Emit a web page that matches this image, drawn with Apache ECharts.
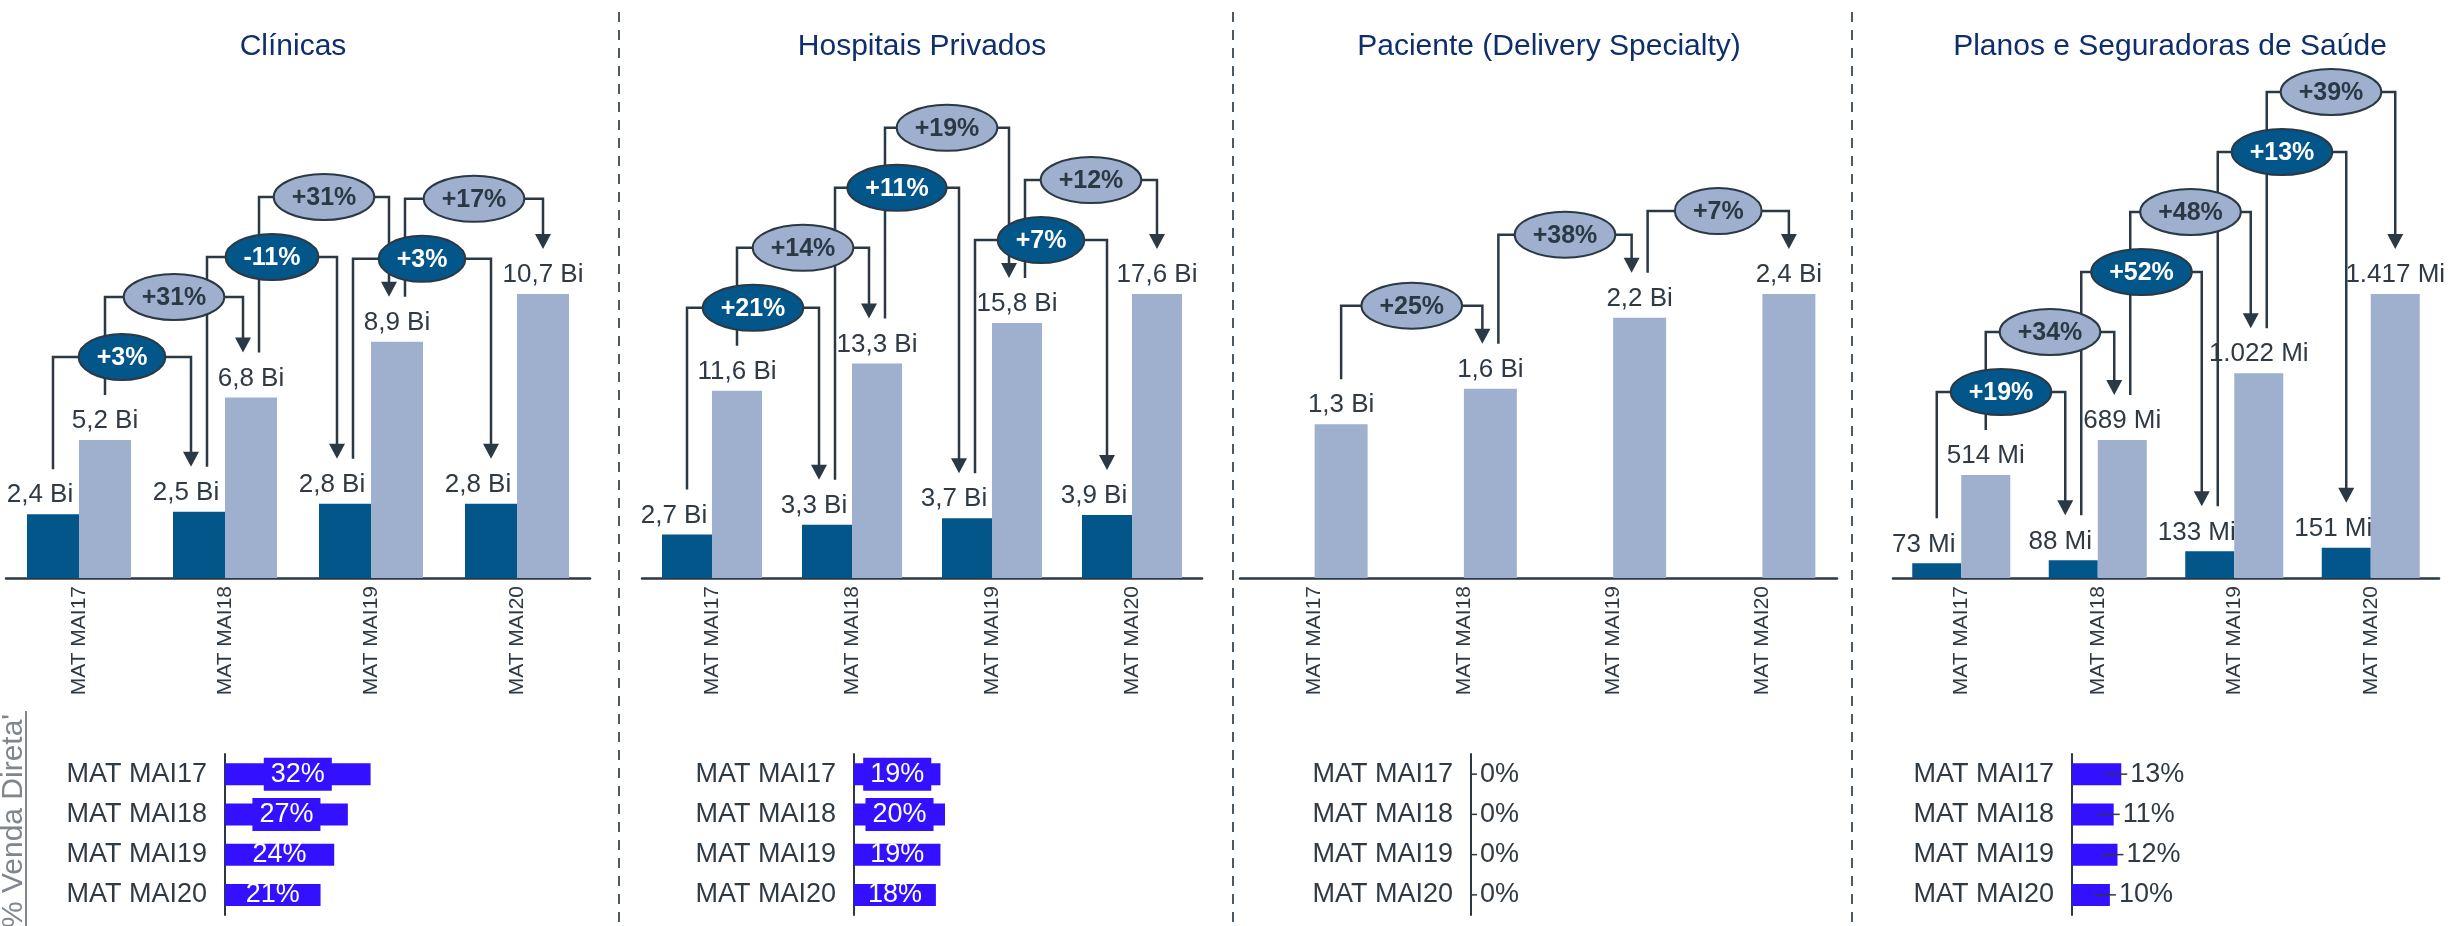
<!DOCTYPE html>
<html><head><meta charset="utf-8">
<script src="https://cdn.jsdelivr.net/npm/echarts@6/dist/echarts.min.js"></script>
<style>html,body{margin:0;padding:0;background:#fff}#c{width:2451px;height:926px}</style>
</head><body><div id="c"></div>
<script>
// ---------------- DATA ----------------
const categories = ['MAT MAI17', 'MAT MAI18', 'MAT MAI19', 'MAT MAI20'];
const panelTitles = ['Clínicas', 'Hospitais Privados', 'Paciente (Delivery Specialty)', 'Planos e Seguradoras de Saúde'];
const units = ['Bi', 'Bi', 'Bi', 'Mi'];

const clinicasDireta = [2.4, 2.5, 2.8, 2.8];
const clinicasTotal = [5.2, 6.8, 8.9, 10.7];
const hospitaisDireta = [2.7, 3.3, 3.7, 3.9];
const hospitaisTotal = [11.6, 13.3, 15.8, 17.6];
const pacienteDireta = [null, null, null, null];
const pacienteTotal = [1.3, 1.6, 2.2, 2.4];
const planosDireta = [73, 88, 133, 151];
const planosTotal = [514, 689, 1022, 1417];

const clinicasGrowthDireta = ['+3%', '-11%', '+3%'];
const clinicasGrowthTotal = ['+31%', '+31%', '+17%'];
const hospitaisGrowthDireta = ['+21%', '+11%', '+7%'];
const hospitaisGrowthTotal = ['+14%', '+19%', '+12%'];
const pacienteGrowthDireta = [null, null, null];
const pacienteGrowthTotal = ['+25%', '+38%', '+7%'];
const planosGrowthDireta = ['+19%', '+52%', '+13%'];
const planosGrowthTotal = ['+34%', '+48%', '+39%'];

const clinicasShare = [32, 27, 24, 21];
const hospitaisShare = [19, 20, 19, 18];
const pacienteShare = [0, 0, 0, 0];
const planosShare = [13, 11, 12, 10];

const shareAxisTitle = "% Venda Direta'";

const directa = [clinicasDireta, hospitaisDireta, pacienteDireta, planosDireta];
const total = [clinicasTotal, hospitaisTotal, pacienteTotal, planosTotal];
const growthDireta = [clinicasGrowthDireta, hospitaisGrowthDireta, pacienteGrowthDireta, planosGrowthDireta];
const growthTotal = [clinicasGrowthTotal, hospitaisGrowthTotal, pacienteGrowthTotal, planosGrowthTotal];
const shares = [clinicasShare, hospitaisShare, pacienteShare, planosShare];

// ---------------- LAYOUT / STYLE ----------------
const FONT = 'Liberation Sans';
const C = {
  dark: '#03568a', light: '#9eb0cd', blue: '#3310ff',
  ink: '#2f3a45', line: '#2b3945', title: '#0f2e6c', grey: '#7f868d', sep: '#4d5964'
};
const layout = {
  top: {
    top: 294, height: 284,
    panels: [
      { left: 6, width: 584, barWidth: 52 },
      { left: 642, width: 560, barWidth: 50 },
      { left: 1240, width: 597, barWidth: 53 },
      { left: 1893, width: 546, barWidth: 49 }
    ]
  },
  bottom: { top: 754, height: 161, width: 455, lefts: [225, 854, 1471, 2072], max: 100 },
  titleX: [293, 922, 1549, 2170], titleY: 47,
  separators: [619, 1233, 1852],
  bracketStack: [false, false, false, true],
  endGap: 45, gapE: 38, gapB: 60, gapLine: 40, offset: 8,
  pillPadX: 18, pillRy: 23,
  insideLabelPanels: [true, true, false, false],
  labelBoxRows: 2
};

function fmt(v, unit) {
  if (v == null) return '';
  if (unit === 'Bi') return v.toFixed(1).replace('.', ',') + ' Bi';
  return String(v).replace(/\B(?=(\d{3})+(?!\d))/g, '.') + ' Mi';
}

const chart = echarts.init(document.getElementById('c'), null, { renderer: 'canvas' });

const grids = [], xAxes = [], yAxes = [], series = [];
layout.top.panels.forEach((pl, p) => {
  grids.push({ left: pl.left, top: layout.top.top, width: pl.width, height: layout.top.height });
  xAxes.push({
    type: 'category', gridIndex: p, data: categories,
    axisLine: { lineStyle: { color: C.line, width: 2.5 } },
    axisTick: { show: false },
    axisLabel: { rotate: 90, fontSize: 21, fontFamily: FONT, color: C.ink, margin: 8 }
  });
  const mx = Math.max(...directa[p].filter(v => v != null), ...total[p]);
  yAxes.push({ type: 'value', gridIndex: p, min: 0, max: mx, show: false, splitLine: { show: false } });
  const unit = units[p];
  series.push({
    type: 'bar', xAxisIndex: p, yAxisIndex: p, data: directa[p], barWidth: pl.barWidth, barGap: '0%',
    itemStyle: { color: C.dark },
    label: { show: true, position: 'top', distance: 6, offset: [-13, 0], fontSize: 26, fontFamily: FONT, color: C.ink,
      formatter: (d) => fmt(d.value, unit) }
  });
  series.push({
    type: 'bar', xAxisIndex: p, yAxisIndex: p, data: total[p], barWidth: pl.barWidth, barGap: '0%',
    itemStyle: { color: C.light },
    label: { show: true, position: 'top', distance: 6, fontSize: 26, fontFamily: FONT, color: C.ink,
      formatter: (d) => fmt(d.value, unit) }
  });
});

layout.bottom.lefts.forEach((lx, p) => {
  const gi = 4 + p;
  grids.push({ left: lx, top: layout.bottom.top, width: layout.bottom.width, height: layout.bottom.height });
  xAxes.push({ type: 'value', gridIndex: gi, min: 0, max: layout.bottom.max, show: false, splitLine: { show: false } });
  yAxes.push({
    type: 'category', gridIndex: gi, data: categories, inverse: true,
    axisLine: { show: true, lineStyle: { color: C.line, width: 2 } },
    axisTick: { show: false },
    axisLabel: { fontSize: 27, fontFamily: FONT, color: C.ink, margin: 18 }
  });
  const inside = layout.insideLabelPanels[p];
  const data = shares[p].map((v, i) => {
    if (inside && i < layout.labelBoxRows) {
      return { value: v, label: { backgroundColor: C.blue, padding: [3, 7] } };
    }
    return v;
  });
  series.push({
    type: 'bar', xAxisIndex: gi, yAxisIndex: gi, data: data, barWidth: 22,
    itemStyle: { color: C.blue },
    label: inside
      ? { show: true, position: 'inside', fontSize: 27, fontFamily: FONT, color: '#ffffff', formatter: '{c}%' }
      : { show: true, position: 'right', distance: 9, fontSize: 27, fontFamily: FONT, color: C.ink, formatter: '{c}%' }
  });
});

chart.setOption({
  animation: false,
  backgroundColor: '#ffffff',
  grid: grids, xAxis: xAxes, yAxis: yAxes, series: series
});

// ---------------- ANNOTATIONS ----------------
const ctx = document.createElement('canvas').getContext('2d');
const pillFont = 'bold 25px "' + FONT + '"';
ctx.font = pillFont;

const els = [];
panelTitles.forEach((t, p) => {
  els.push({ type: 'text', z: 100, x: layout.titleX[p], y: layout.titleY,
    style: { text: t, fill: C.title, font: '30px "' + FONT + '"', align: 'center', verticalAlign: 'middle', textAlign: 'center', textVerticalAlign: 'middle' } });
});
layout.separators.forEach(x => {
  els.push({ type: 'line', z: 1, shape: { x1: x, y1: 12, x2: x, y2: 926 },
    style: { stroke: C.sep, lineWidth: 2, lineDash: [10, 8] } });
});
els.push({ type: 'text', z: 100, x: 14, y: 821, rotation: Math.PI / 2,
  style: { text: shareAxisTitle, fill: C.grey, font: '30px "' + FONT + '"', align: 'center', verticalAlign: 'middle', textAlign: 'center', textVerticalAlign: 'middle' } });
els.push({ type: 'line', z: 100, shape: { x1: 26, y1: 711, x2: 26, y2: 926 }, style: { stroke: C.grey, lineWidth: 2 } });

layout.top.panels.forEach((pl, p) => {
  const bw = pl.barWidth;
  const sets = [directa[p], total[p]];
  const growth = [growthDireta[p], growthTotal[p]];
  const bars = [[], []];
  for (let s = 0; s < 2; s++) {
    for (let i = 0; i < categories.length; i++) {
      const v = sets[s][i];
      if (v == null) continue;
      const c = chart.convertToPixel({ gridIndex: p }, [i, v]);
      bars[s][i] = { x: c[0] + (s === 0 ? -bw / 2 : bw / 2), top: c[1], end: c[1] - layout.endGap };
    }
  }
  const placed = [];
  const n = categories.length;
  for (let i = 0; i < n - 1; i++) {
    for (let s = 0; s < 2; s++) {
      const g = growth[s] && growth[s][i];
      const a = bars[s][i], z = bars[s][i + 1];
      if (!g || !a || !z) continue;
      const x1 = a.x + (i > 0 ? layout.offset : 0);
      const x2 = z.x - (i + 1 < n - 1 ? layout.offset : 0);
      const cx = (x1 + x2) / 2;
      const rx = ctx.measureText(g).width / 2 + layout.pillPadX;
      let minEnd = Infinity;
      for (let ss = 0; ss < 2; ss++) bars[ss].forEach(b => {
        if (b && b.x >= a.x - 1 && b.x <= z.x + 1) minEnd = Math.min(minEnd, b.end);
      });
      let level = minEnd - layout.gapE;
      if (layout.bracketStack[p]) {
        if (placed.length) level = Math.min(level, placed[placed.length - 1].level - layout.gapB);
      } else {
        let changed = true;
        while (changed) {
          changed = false;
          for (const q of placed) {
            const ov = Math.min(x2, q.x2) - Math.max(x1, q.x1);
            if (ov <= 1) continue;
            const pillsOverlap = Math.abs(cx - q.cx) < rx + q.rx - 2;
            const gap = pillsOverlap ? layout.gapB : layout.gapLine;
            if (Math.abs(level - q.level) < gap - 0.5) {
              level = q.level - gap; changed = true;
            }
          }
        }
      }
      placed.push({ s, i, x1, x2, cx, rx, level, y1: a.end, y2: z.end, text: g });
    }
  }
  placed.forEach(b => {
    els.push({ type: 'polyline', z: 40,
      shape: { points: [[b.x1, b.y1], [b.x1, b.level], [b.x2, b.level], [b.x2, b.y2 - 13]] },
      style: { stroke: C.line, lineWidth: 2.5, fill: null } });
    els.push({ type: 'polygon', z: 40,
      shape: { points: [[b.x2 - 8, b.y2 - 15], [b.x2 + 8, b.y2 - 15], [b.x2, b.y2]] },
      style: { fill: C.line } });
  });
  placed.forEach(b => {
    const dark = b.s === 0;
    els.push({ type: 'ellipse', z: 60,
      shape: { cx: b.cx, cy: b.level, rx: b.rx, ry: layout.pillRy },
      style: { fill: dark ? C.dark : C.light, stroke: C.line, lineWidth: 2 } });
    els.push({ type: 'text', z: 61, x: b.cx, y: b.level + 1,
      style: { text: b.text, fill: dark ? '#ffffff' : C.line, font: pillFont, align: 'center', verticalAlign: 'middle', textAlign: 'center', textVerticalAlign: 'middle' } });
  });
});

layout.insideLabelPanels.forEach((inside, p) => {
  if (inside) return;
  const gi = 4 + p;
  shares[p].forEach((v, i) => {
    const e = chart.convertToPixel({ gridIndex: gi }, [v, i]);
    const o = chart.convertToPixel({ gridIndex: gi }, [0, i]);
    const x0 = Math.max(o[0], e[0] - 16);
    els.push({ type: 'line', z: 50, shape: { x1: x0, y1: e[1], x2: e[0] + 6, y2: e[1] },
      style: { stroke: C.line, lineWidth: 1.5 } });
  });
});

chart.setOption({ graphic: { elements: els } });
</script>
</body></html>
